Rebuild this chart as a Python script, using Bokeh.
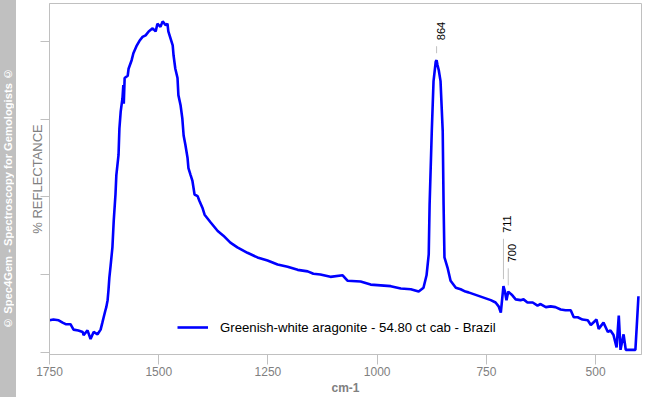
from bokeh.plotting import figure
from bokeh.models import Div, FixedTicker, Range1d
from bokeh.layouts import row
from bokeh.core.properties import value
from bokeh.embed import file_html
from bokeh.resources import INLINE
import math

# ---- data ----
wavenumber = [1750, 1741, 1729, 1720, 1713, 1702, 1695, 1684, 1674, 1672,
              1663, 1656, 1649, 1640, 1633, 1629, 1626, 1622, 1620, 1617,
              1615, 1613, 1610, 1606, 1603, 1599, 1597, 1592, 1590, 1587,
              1583, 1581, 1580, 1578, 1571, 1569, 1562, 1558, 1551, 1544,
              1537, 1530, 1523, 1514, 1507, 1503, 1496, 1491, 1484, 1480,
              1478, 1473, 1468, 1466, 1462, 1457, 1455, 1450, 1446, 1443,
              1439, 1434, 1432, 1427, 1423, 1418, 1411, 1407, 1400, 1395,
              1381, 1365, 1352, 1336, 1320, 1297, 1274, 1251, 1228, 1205,
              1182, 1159, 1146, 1130, 1107, 1079, 1068, 1038, 1015, 992,
              969, 946, 923, 905, 894, 887, 882, 880, 875, 871,
              866, 864, 862, 859, 855, 850, 848, 846, 839, 832,
              820, 809, 798, 791, 740, 729, 722, 717, 711, 708,
              704, 700, 692, 683, 672, 665, 656, 644, 633, 626,
              614, 603, 592, 580, 569, 557, 550, 541, 530, 518,
              511, 498, 493, 482, 472, 466, 459, 452, 447, 443,
              436, 431, 409, 406, 402]
reflectance = [0.41, 0.42, 0.41, 0.38, 0.36, 0.36, 0.29, 0.28, 0.26, 0.22,
               0.28, 0.17, 0.26, 0.23, 0.29, 0.38, 0.45, 0.54, 0.58, 0.67,
               0.80, 0.96, 1.12, 1.35, 1.69, 2.03, 2.28, 2.54, 2.88, 3.10,
               3.27, 3.44, 3.20, 3.53, 3.56, 3.65, 3.76, 3.85, 3.94, 4.01,
               4.06, 4.08, 4.13, 4.17, 4.13, 4.23, 4.19, 4.26, 4.21, 4.23,
               4.13, 4.04, 3.95, 3.82, 3.65, 3.53, 3.31, 3.18, 3.01, 2.79,
               2.67, 2.50, 2.37, 2.28, 2.21, 2.03, 2.01, 1.95, 1.86, 1.77,
               1.67, 1.56, 1.50, 1.41, 1.35, 1.28, 1.22, 1.18, 1.13, 1.10,
               1.06, 1.04, 1.01, 1.00, 0.97, 0.99, 0.92, 0.91, 0.87, 0.86,
               0.85, 0.82, 0.81, 0.78, 0.83, 0.99, 1.26, 1.90, 2.85, 3.49,
               3.74, 3.76, 3.70, 3.63, 3.49, 2.85, 1.90, 1.22, 1.09, 0.92,
               0.83, 0.81, 0.78, 0.77, 0.67, 0.64, 0.59, 0.51, 0.85, 0.79,
               0.67, 0.78, 0.74, 0.68, 0.67, 0.68, 0.64, 0.64, 0.60, 0.62,
               0.58, 0.59, 0.58, 0.55, 0.54, 0.54, 0.45, 0.45, 0.42, 0.41,
               0.35, 0.42, 0.30, 0.38, 0.26, 0.28, 0.22, 0.06, 0.47, 0.03,
               0.23, 0.03, 0.03, 0.32, 0.72]
assert len(wavenumber) == len(reflectance)

series_label = "Greenish-white aragonite - 54.80 ct cab - Brazil"
x_ticks = [1750, 1500, 1250, 1000, 750, 500]
y_ticks = [0, 1, 2, 3, 4]

peak_labels = ["864", "711", "700"]
peak_x = [864, 711, 700]
peak_line_bottom = [3.85, 0.94, 0.86]
peak_line_top = [3.94, 1.46, 1.08]

GRAY = "#c0c0c0"
TXT_GRAY = "#808080"
FONT = "Liberation Sans"
W, H = 645, 397
SIDE = 16

p = figure(width=W - SIDE, height=H, output_backend="svg", toolbar_location=None,
           x_range=Range1d(1750, 395), y_range=Range1d(-0.03, 4.49),
           min_border_left=33, min_border_right=4, min_border_top=3,
           min_border_bottom=42)
p.xgrid.visible = False
p.ygrid.visible = False
p.outline_line_color = GRAY
p.outline_line_width = 1
p.background_fill_color = "white"
p.border_fill_color = "white"

p.line(wavenumber, reflectance, line_color="#0000ff", line_width=2.6,
       legend_label=series_label)

# peak markers
p.segment(x0=peak_x, y0=peak_line_bottom, x1=peak_x, y1=peak_line_top,
          line_color=GRAY, line_width=1)
p.text(x=peak_x, y=peak_line_top, text=peak_labels, angle=math.pi / 2,
       text_align="left", text_baseline="middle", x_offset=4, y_offset=-6,
       text_font=value(FONT), text_font_size="11px", text_color="black")

xa = p.xaxis[0]
xa.ticker = FixedTicker(ticks=x_ticks)
xa.axis_label = "cm-1"
xa.axis_label_text_font = FONT
xa.axis_label_text_font_size = "12px"
xa.axis_label_text_font_style = "bold"
xa.axis_label_text_color = TXT_GRAY
xa.axis_label_standoff = 2
xa.major_label_text_font = FONT
xa.major_label_text_font_size = "12px"
xa.major_label_text_color = TXT_GRAY
xa.major_label_standoff = 2
xa.major_tick_out = 10
xa.major_tick_in = 0
xa.minor_tick_out = 0
xa.minor_tick_in = 0
xa.axis_line_color = GRAY
xa.major_tick_line_color = GRAY

ya = p.yaxis[0]
ya.ticker = FixedTicker(ticks=y_ticks)
ya.major_label_overrides = {t: "" for t in y_ticks}
ya.major_label_standoff = 0
ya.major_tick_out = 9
ya.major_tick_in = 0
ya.minor_tick_out = 0
ya.minor_tick_in = 0
ya.axis_line_color = GRAY
ya.major_tick_line_color = GRAY
ya.axis_label = "% REFLECTANCE"
ya.axis_label_text_font = FONT
ya.axis_label_text_font_size = "13px"
ya.axis_label_text_font_style = "normal"
ya.axis_label_text_color = TXT_GRAY
ya.axis_label_standoff = -4

lg = p.legend[0]
lg.location = (118, 7)
lg.margin = 0
lg.border_line_alpha = 0
lg.background_fill_alpha = 0
lg.label_text_font = FONT
lg.label_text_font_size = "13.2px"
lg.label_text_color = "black"
lg.label_standoff = 12
lg.glyph_width = 31

side = Div(
    text=('<div style="width:%dpx;height:%dpx;display:flex;align-items:center;'
          'justify-content:center;overflow:hidden;">'
          '<span style="writing-mode:vertical-rl;transform:rotate(180deg);'
          'color:white;font-family:\'Liberation Sans\';font-weight:bold;'
          'font-size:11.2px;white-space:nowrap;">'
          '\u00a9 Spec4Gem - Spectroscopy for Gemologists \u00a9</span></div>') % (SIDE, H),
    width=SIDE, height=H, margin=(0, 0, 0, 0),
    styles={"background-color": GRAY})

layout = row(side, p, spacing=0)
open("out.html", "w").write(file_html(layout, INLINE))
